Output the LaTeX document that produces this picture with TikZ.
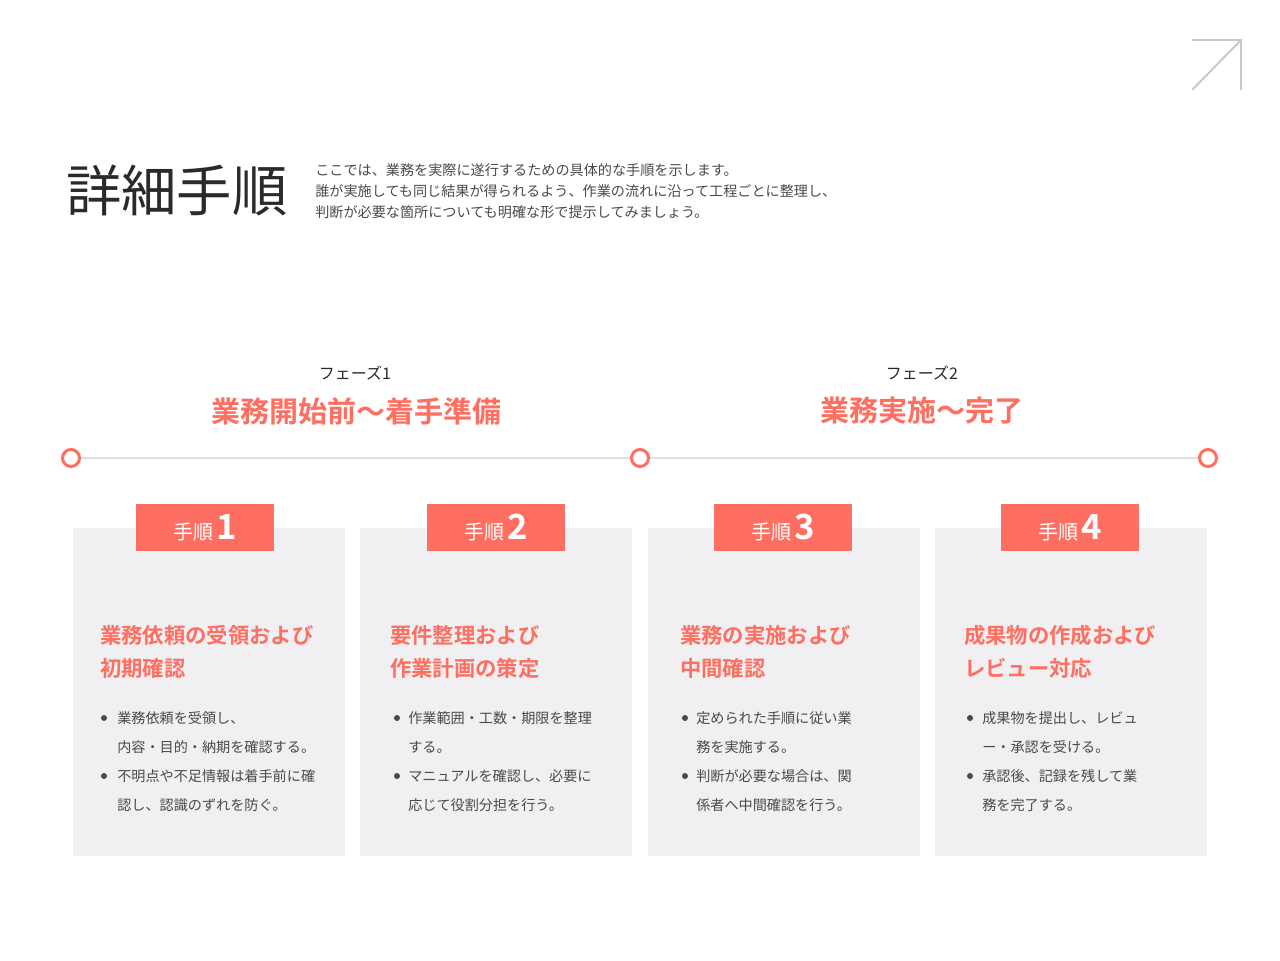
\documentclass[tikz,border=0pt]{standalone}
\usepackage{fontspec}
\setmainfont{Noto Sans CJK JP}[BoldFont={Noto Sans CJK JP Bold}]
\usepackage{tikz}
\usetikzlibrary{positioning,shapes}
\definecolor{coral}{HTML}{FF6F61}
\definecolor{cardgray}{HTML}{F0EFF1}
\definecolor{linegray}{HTML}{DEDDE1}
\definecolor{arrowgray}{HTML}{C9C9C9}
\definecolor{inkdark}{HTML}{2A2A2A}
\definecolor{inkbody}{HTML}{4A4A4A}

\begin{document}
\begin{tikzpicture}[x=0.75pt,y=-0.75pt]
      \tikzstyle{cardbox} = [rectangle, fill=cardgray, minimum width=204pt, minimum height=246pt, inner sep=0pt]
      \tikzstyle{tabbox} = [rectangle, fill=coral, text=white, minimum width=103.5pt, minimum height=35.25pt, inner sep=0pt, font=\fontsize{15}{18}\selectfont]
      \tikzstyle{dotnode} = [circle, draw=coral, line width=2.25pt, fill=white, minimum size=12.75pt, inner sep=0pt]
      \tikzstyle{cardhead} = [anchor=base west, align=left, inner sep=0pt, text=coral, font=\bfseries\fontsize{16}{24.75}\selectfont]
      \tikzstyle{cardtext} = [anchor=base west, align=left, inner sep=0pt, text=inkbody, font=\fontsize{10.6}{21.75}\selectfont]
      \tikzstyle{introline} = [anchor=base west, inner sep=0pt, text=inkbody, font=\fontsize{10.6}{12}\selectfont]
      \tikzstyle{bullet} = [circle, fill=inkbody, minimum size=4.5pt, inner sep=0pt]
      \tikzstyle{phasenode} = [inner sep=0pt, text=inkdark, font=\fontsize{12}{14}\selectfont]
      \tikzstyle{phasehead} = [inner sep=0pt, text=coral, font=\bfseries\fontsize{21.75}{26}\selectfont]
      \newcommand{\stepnum}[1]{手順\,{\bfseries\fontsize{26}{26}\selectfont #1}}

      \fill[white] (0,0) rectangle (1280,960);
      \useasboundingbox (0,0) rectangle (1280,960);

      % header
      \node[anchor=west, inner sep=0pt, text=inkdark, font=\fontsize{41.5}{48}\selectfont] (title) at (66,190) {詳細手順};
      \node[introline] (introA) at (315,175) {ここでは、業務を実際に遂行するための具体的な手順を示します。};
      \node[introline] (introB) at (315,196) {誰が実施しても同じ結果が得られるよう、作業の流れに沿って工程ごとに整理し、};
      \node[introline] (introC) at (315,217) {判断が必要な箇所についても明確な形で提示してみましょう。};
      \draw[arrowgray, line width=1.5pt] (1192,40) -- (1241,40) -- (1241,90);
      \draw[arrowgray, line width=1.5pt] (1192,90) -- (1241,40);

      % phases and timeline
      \node[phasenode] (phaseOne) at (355,373) {フェーズ1};
      \node[phasehead] (phaseOneHead) at (356,411) {業務開始前〜着手準備};
      \node[phasenode] (phaseTwo) at (922,373) {フェーズ2};
      \node[phasehead] (phaseTwoHead) at (922,411) {業務実施〜完了};

      \node[dotnode] (dotStart) at (71,458) {};
      \node[dotnode] (dotMid) at (640,458) {};
      \node[dotnode] (dotEnd) at (1208,458) {};
      \draw[linegray, line width=1.5pt] (dotStart) -- (dotMid);
      \draw[linegray, line width=1.5pt] (dotMid) -- (dotEnd);

      % step 1
      \node[cardbox] (cardOne) at (209,692) {};
      \node[tabbox] (stepOne) at (205,527.5) {\stepnum{1}};
      \node[cardhead] (headOne) at (100,676) {業務依頼の受領および\\初期確認};
      \node[bullet] (dotOneA) at (104,718) {};
      \node[cardtext] (textOneA) at (117,752) {業務依頼を受領し、\\内容・目的・納期を確認する。};
      \node[bullet] (dotOneB) at (104,776) {};
      \node[cardtext] (textOneB) at (117,810) {不明点や不足情報は着手前に確\\認し、認識のずれを防ぐ。};

      % step 2
      \node[cardbox] (cardTwo) at (496,692) {};
      \node[tabbox] (stepTwo) at (496,527.5) {\stepnum{2}};
      \node[cardhead] (headTwo) at (390,676) {要件整理および\\作業計画の策定};
      \node[bullet] (dotTwoA) at (397,718) {};
      \node[cardtext] (textTwoA) at (408,752) {作業範囲・工数・期限を整理\\する。};
      \node[bullet] (dotTwoB) at (397,776) {};
      \node[cardtext] (textTwoB) at (408,810) {マニュアルを確認し、必要に\\応じて役割分担を行う。};

      % step 3
      \node[cardbox] (cardThree) at (783.5,692) {};
      \node[tabbox] (stepThree) at (783,527.5) {\stepnum{3}};
      \node[cardhead] (headThree) at (680,676) {業務の実施および\\中間確認};
      \node[bullet] (dotThreeA) at (685,718) {};
      \node[cardtext] (textThreeA) at (696,752) {定められた手順に従い業\\務を実施する。};
      \node[bullet] (dotThreeB) at (685,776) {};
      \node[cardtext] (textThreeB) at (696,810) {判断が必要な場合は、関\\係者へ中間確認を行う。};

      % step 4
      \node[cardbox] (cardFour) at (1070.5,692) {};
      \node[tabbox] (stepFour) at (1070,527.5) {\stepnum{4}};
      \node[cardhead] (headFour) at (964,676) {成果物の作成および\\レビュー対応};
      \node[bullet] (dotFourA) at (970,718) {};
      \node[cardtext] (textFourA) at (982,752) {成果物を提出し、レビュ\\ー・承認を受ける。};
      \node[bullet] (dotFourB) at (970,776) {};
      \node[cardtext] (textFourB) at (982,810) {承認後、記録を残して業\\務を完了する。};

    \end{tikzpicture}
\end{document}
